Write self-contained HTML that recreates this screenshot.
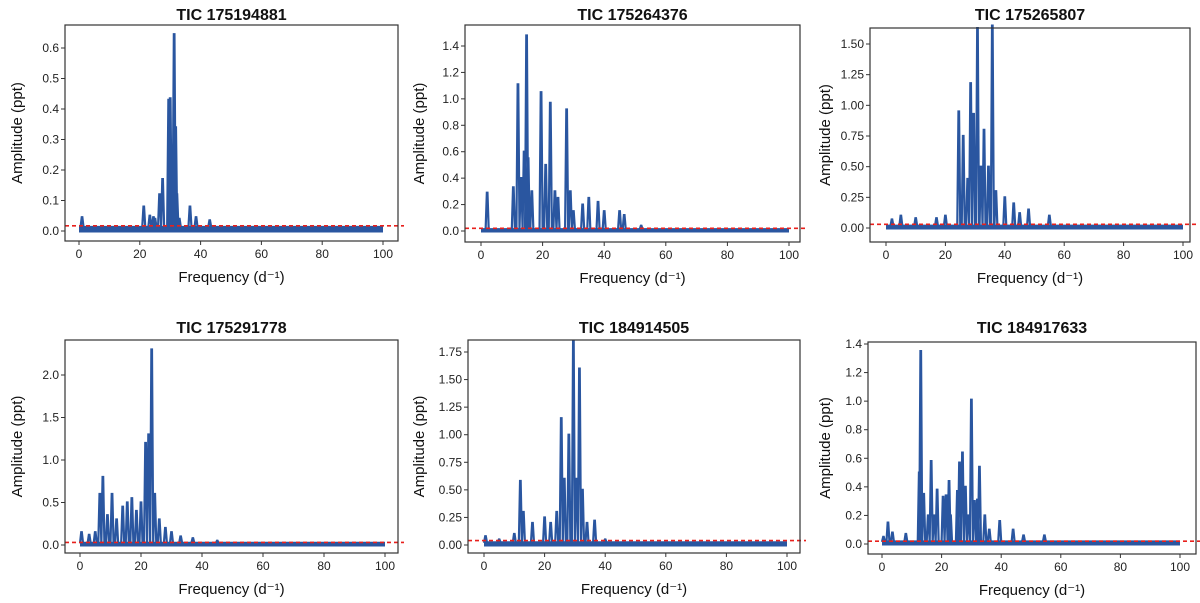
<!DOCTYPE html>
<html><head><meta charset="utf-8"><style>
body{margin:0;background:#fff;width:1200px;height:603px;overflow:hidden}
svg{display:block;font-family:"Liberation Sans",sans-serif}
</style></head><body>
<svg id="c" width="1200" height="603"></svg>
<script>
const titles=["TIC 175194881","TIC 175264376","TIC 175265807","TIC 175291778","TIC 184914505","TIC 184917633"];
const xTicks=[0,20,40,60,80,100];
const yTicks1=[0,0.1,0.2,0.3,0.4,0.5,0.6];
const yTicks2=[0,0.2,0.4,0.6,0.8,1.0,1.2,1.4];
const yTicks3=[0,0.25,0.5,0.75,1.0,1.25,1.5];
const yTicks4=[0,0.5,1.0,1.5,2.0];
const yTicks5=[0,0.25,0.5,0.75,1.0,1.25,1.5,1.75];
const yTicks6=[0,0.2,0.4,0.6,0.8,1.0,1.2,1.4];
const peakFreq1=[1,21.3,23.3,24.5,25,26.5,27.5,29.5,30,30.5,31.3,31.8,32.2,33,36.5,38.5,43];
const peakAmp1=[0.045,0.08,0.05,0.045,0.04,0.12,0.17,0.43,0.435,0.2,0.645,0.34,0.12,0.04,0.08,0.045,0.035];
const peakFreq2=[2,10.5,12,13,14,14.8,15.3,16.5,19.5,21,22.5,24,25,27.8,29,30,33,35,38,40,45,46.5,52];
const peakAmp2=[0.29,0.33,1.11,0.4,0.6,1.48,0.55,0.3,1.05,0.5,0.97,0.3,0.25,0.92,0.3,0.15,0.2,0.25,0.22,0.15,0.15,0.12,0.04];
const peakFreq3=[2,5,10,17,20,24.5,26,27.5,28.5,29.5,30.8,32,33,34.5,35.8,37,40,43,45,48,55];
const peakAmp3=[0.07,0.1,0.08,0.08,0.1,0.95,0.75,0.4,1.18,0.93,1.63,0.5,0.8,0.5,1.65,0.3,0.25,0.2,0.12,0.15,0.1];
const peakFreq4=[0.5,3,5,6.5,7.5,9,10.5,12,14,15.5,17,18.5,20,21.5,22.5,23.5,24.5,26,28,30,33,37,45];
const peakAmp4=[0.15,0.12,0.15,0.6,0.8,0.35,0.6,0.3,0.45,0.5,0.55,0.4,0.5,1.2,1.3,2.3,0.6,0.3,0.2,0.15,0.1,0.08,0.05];
const peakFreq5=[0.5,5,10,12,13,16,20,22,24,25.5,26.5,28,29.5,30.5,31.5,32.5,34,36.5,40];
const peakAmp5=[0.08,0.05,0.1,0.58,0.3,0.2,0.25,0.2,0.3,1.15,0.6,1.0,1.85,0.6,1.6,0.5,0.2,0.22,0.05];
const peakFreq6=[0.5,2,3.5,8,12.5,13,14,15.5,16.5,17.5,18.5,20.5,21.5,22.5,23,25.3,26,27,28,29,30,31,32,32.7,34.5,36,39.5,44,47.5,54.5];
const peakAmp6=[0.05,0.15,0.08,0.07,0.5,1.35,0.35,0.2,0.58,0.2,0.38,0.33,0.34,0.44,0.2,0.37,0.57,0.64,0.4,0.2,1.01,0.3,0.31,0.54,0.2,0.1,0.16,0.1,0.06,0.06];
const thresholds=[0.017,0.02,0.03,0.03,0.04,0.02];
const noiseLevels=[0.012,0.01,0.015,0.02,0.02,0.015];

const layout=[
 {box:[65,25,398,241],x0:79,x100:383,y0:231,yT:48,yv:0.6,ticks:yTicks1,dec:1,f:peakFreq1,a:peakAmp1,tY:14,lX:22},
 {box:[465,25,800,242],x0:481,x100:789,y0:231,yT:46,yv:1.4,ticks:yTicks2,dec:1,f:peakFreq2,a:peakAmp2,tY:14,lX:424},
 {box:[870,28,1190,242],x0:886,x100:1183,y0:228,yT:44,yv:1.5,ticks:yTicks3,dec:2,f:peakFreq3,a:peakAmp3,tY:14,lX:830},
 {box:[65,340,398,553],x0:80,x100:385,y0:545,yT:375,yv:2.0,ticks:yTicks4,dec:1,f:peakFreq4,a:peakAmp4,tY:327,lX:22},
 {box:[468,340,800,553],x0:484,x100:787,y0:545,yT:352,yv:1.75,ticks:yTicks5,dec:2,f:peakFreq5,a:peakAmp5,tY:327,lX:424},
 {box:[868,342,1196,554],x0:882,x100:1180,y0:544,yT:344,yv:1.4,ticks:yTicks6,dec:1,f:peakFreq6,a:peakAmp6,tY:327,lX:830}
];
const svg=document.getElementById('c');
const NS='http://www.w3.org/2000/svg';
function mk(t,at,txt){const e=document.createElementNS(NS,t);for(const k in at)e.setAttribute(k,at[k]);if(txt!==undefined)e.textContent=txt;svg.appendChild(e);return e;}
layout.forEach((L,i)=>{
 const X=v=>L.x0+(L.x100-L.x0)*v/100;
 const Y=v=>L.y0-(L.y0-L.yT)*v/L.yv;
 const [l,t,r,b]=L.box;
 const cx=(l+r)/2;
 const nz=noiseLevels[i];
 let e=mk('text',{x:cx,y:L.tY+6,'text-anchor':'middle','font-size':16,'font-weight':'bold',fill:'#111'},titles[i]);
 
 e=mk('line',{x1:X(0),x2:X(100),y1:Y(nz/2),y2:Y(nz/2),stroke:'#2a56a0','stroke-width':Math.max(4,(L.y0-L.yT)*nz/L.yv+3)});
 
 let d='M'+X(0)+' '+Y(nz);
 L.f.forEach((f,k)=>{d+=' L'+X(f-0.5)+' '+Y(nz)+' L'+X(f-0.1)+' '+Y(L.a[k])+' L'+X(f+0.1)+' '+Y(L.a[k])+' L'+X(f+0.5)+' '+Y(nz);});
 d+=' L'+X(100)+' '+Y(nz);
 e=mk('path',{d:d,fill:'none',stroke:'#2a56a0','stroke-width':2.2,'stroke-linejoin':'miter'});
 
 e=mk('line',{x1:l,x2:r+6,y1:Y(thresholds[i]),y2:Y(thresholds[i]),stroke:'#e8201c','stroke-width':1.6,'stroke-dasharray':'4,3'});
 
 e=mk('rect',{x:l,y:t,width:r-l,height:b-t,fill:'none',stroke:'#333','stroke-width':1.2});
 
 xTicks.forEach(v=>{
  mk('line',{x1:X(v),x2:X(v),y1:b,y2:b+4,stroke:'#333'});
  e=mk('text',{x:X(v),y:b+17,'text-anchor':'middle','font-size':12,fill:'#222'},String(v));
  
 });
 L.ticks.forEach(v=>{
  mk('line',{x1:l-4,x2:l,y1:Y(v),y2:Y(v),stroke:'#333'});
  e=mk('text',{x:l-6,y:Y(v)+4,'text-anchor':'end','font-size':12,fill:'#222'},v.toFixed(L.dec));
  
 });
 e=mk('text',{x:cx,y:b+41,'text-anchor':'middle','font-size':15,fill:'#111'},'Frequency (d\u207B\u00B9)');
 
 const my=(t+b)/2;
 e=mk('text',{x:L.lX,y:my,'text-anchor':'middle','font-size':15,fill:'#111',transform:'rotate(-90 '+L.lX+' '+my+')'},'Amplitude (ppt)');
 
});
</script>
</body></html>
